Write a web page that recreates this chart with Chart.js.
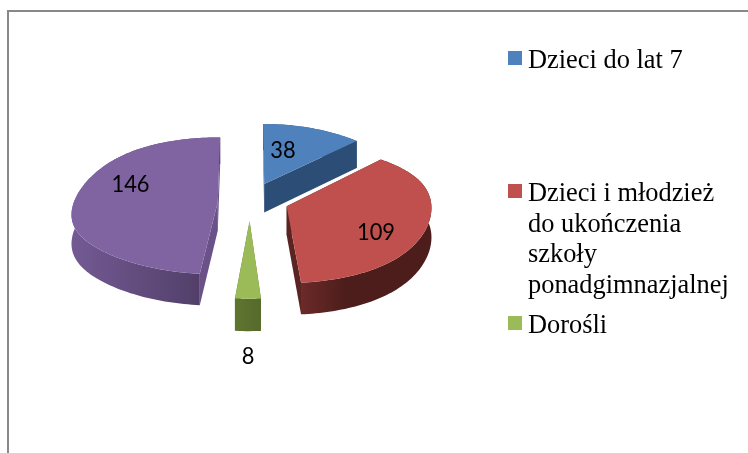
<!DOCTYPE html>
<html lang="pl">
<head>
<meta charset="utf-8">
<style>html,body{margin:0;padding:0;background:#fff}canvas{display:block}</style>
<script src="https://cdn.jsdelivr.net/npm/chart.js@4/dist/chart.umd.min.js"></script>
</head>
<body>
<canvas id="c" width="748" height="453"></canvas>
<script>
const categories = ['Dzieci do lat 7', 'Dzieci i młodzież do ukończenia szkoły ponadgimnazjalnej', 'Dorośli', ''];
const values = [38, 109, 8, 146];
const topColors = ['#4f81bd', '#c0504d', '#9bbb59', '#8064a2'];
const wallColors = ['#2c4d75', '#5a2422', '#5f7530', '#6a5288'];
const rimLeft = ['#2c4d75', '#6b2a28', '#5f7530', '#735a94'];
const rimRight = ['#2c4d75', '#4c1d1b', '#566a2c', '#4d3b62'];
const explodeOffsets = [92, 95, 100, 80];
const widthStretch = [0.98, 0.975, 1, 1.09];

const view = {ox: 250, oy: 201, rx: 140, ry: 68, depth: 29, pn: 0.08, pu: 0.03, unit: 0.0029, tilt: 6};
const valueLabelPos = [[283, 150], [376, 232], [248, 356], [130.5, 184]];
const legendPos = {sw: 14, swX: 508, textX: 528, width: 205, line: 30.5, top: [68, 201, 333]};

function project(u, n, z) {
  const w = 1 - view.pn * n;
  const f = Math.max(0, 1 - n * n);
  return {
    x: view.ox + view.rx * u / (w - view.pu * u),
    y: view.oy + (view.ry * n + view.depth * z) / w - view.tilt * u * f * f
  };
}

const pie3d = {
  id: 'pie3d',
  beforeDraw(chart) {
    const c = chart.ctx;
    c.save();
    c.fillStyle = '#fff';
    c.fillRect(0, 0, chart.width, chart.height);
    c.fillStyle = '#888888';
    c.fillRect(7, 10, chart.width - 7, 2);
    c.fillRect(7, 10, 2, chart.height - 10);
    c.restore();
  },
  beforeDatasetDraw(chart) {
    const c = chart.ctx;
    chart.getDatasetMeta(0).data.forEach((arc, i) => {
      const p = arc.getProps(['startAngle', 'endAngle']);
      const mid = (p.startAngle + p.endAngle) / 2;
      const off = arc.options.offset * view.unit;
      const cu = Math.cos(mid) * off, cn = Math.sin(mid) * off;
      const pt = (a, z) => project(cu + Math.cos(a) * widthStretch[i], cn + Math.sin(a), z);
      const apex = z => project(cu, cn, z);
      const steps = Math.max(6, Math.ceil((p.endAngle - p.startAngle) * 40));
      const angs = [];
      for (let s = 0; s <= steps; s++) angs.push(p.startAngle + (p.endAngle - p.startAngle) * s / steps);
      const poly = (pts, fill) => {
        c.beginPath();
        pts.forEach((q, k) => k ? c.lineTo(q.x, q.y) : c.moveTo(q.x, q.y));
        c.closePath();
        c.fillStyle = fill;
        c.fill();
      };
      // radial walls
      poly([apex(0), pt(p.startAngle, 0), pt(p.startAngle, 1), apex(1)], wallColors[i]);
      poly([apex(0), pt(p.endAngle, 0), pt(p.endAngle, 1), apex(1)], wallColors[i]);
      // rim
      const rim = angs.map(a => pt(a, 0)).concat(angs.slice().reverse().map(a => pt(a, 1)));
      const xs = rim.map(q => q.x);
      const g = c.createLinearGradient(Math.min(...xs), 0, Math.max(...xs), 0);
      g.addColorStop(0, rimLeft[i]);
      if (i === 1) g.addColorStop(0.35, rimRight[i]);
      g.addColorStop(1, rimRight[i]);
      poly(rim, g);
      // top face
      poly([apex(0)].concat(angs.map(a => pt(a, 0))), topColors[i]);
    });
    return false;
  },
  afterDatasetsDraw(chart) {
    const c = chart.ctx;
    c.save();
    c.fillStyle = '#000';
    c.textAlign = 'center';
    c.textBaseline = 'middle';
    c.font = '24px Lato';
    values.forEach((v, i) => {
      const s = String(v);
      c.fillText(s, valueLabelPos[i][0], valueLabelPos[i][1], s.length * 12.7);
    });
    c.textAlign = 'left';
    c.textBaseline = 'alphabetic';
    c.font = '26.4px "Liberation Serif"';
    categories.forEach((name, i) => {
      if (!name) return;
      const base = legendPos.top[i];
      c.fillStyle = topColors[i];
      c.fillRect(legendPos.swX, base - 17, legendPos.sw, legendPos.sw);
      c.fillStyle = '#000';
      let line = '', row = 0;
      name.split(' ').forEach(word => {
        const t = line ? line + ' ' + word : word;
        if (line && c.measureText(t).width > legendPos.width) {
          c.fillText(line, legendPos.textX, base + row * legendPos.line);
          row++;
          line = word;
        } else line = t;
      });
      c.fillText(line, legendPos.textX, base + row * legendPos.line);
    });
    c.restore();
  }
};

new Chart(document.getElementById('c'), {
  type: 'pie',
  data: {
    labels: categories,
    datasets: [{data: values, backgroundColor: topColors, borderWidth: 0, offset: explodeOffsets}]
  },
  options: {
    responsive: false,
    animation: false,
    plugins: {legend: {display: false}, tooltip: {enabled: false}}
  },
  plugins: [pie3d]
});
</script>
</body>
</html>
